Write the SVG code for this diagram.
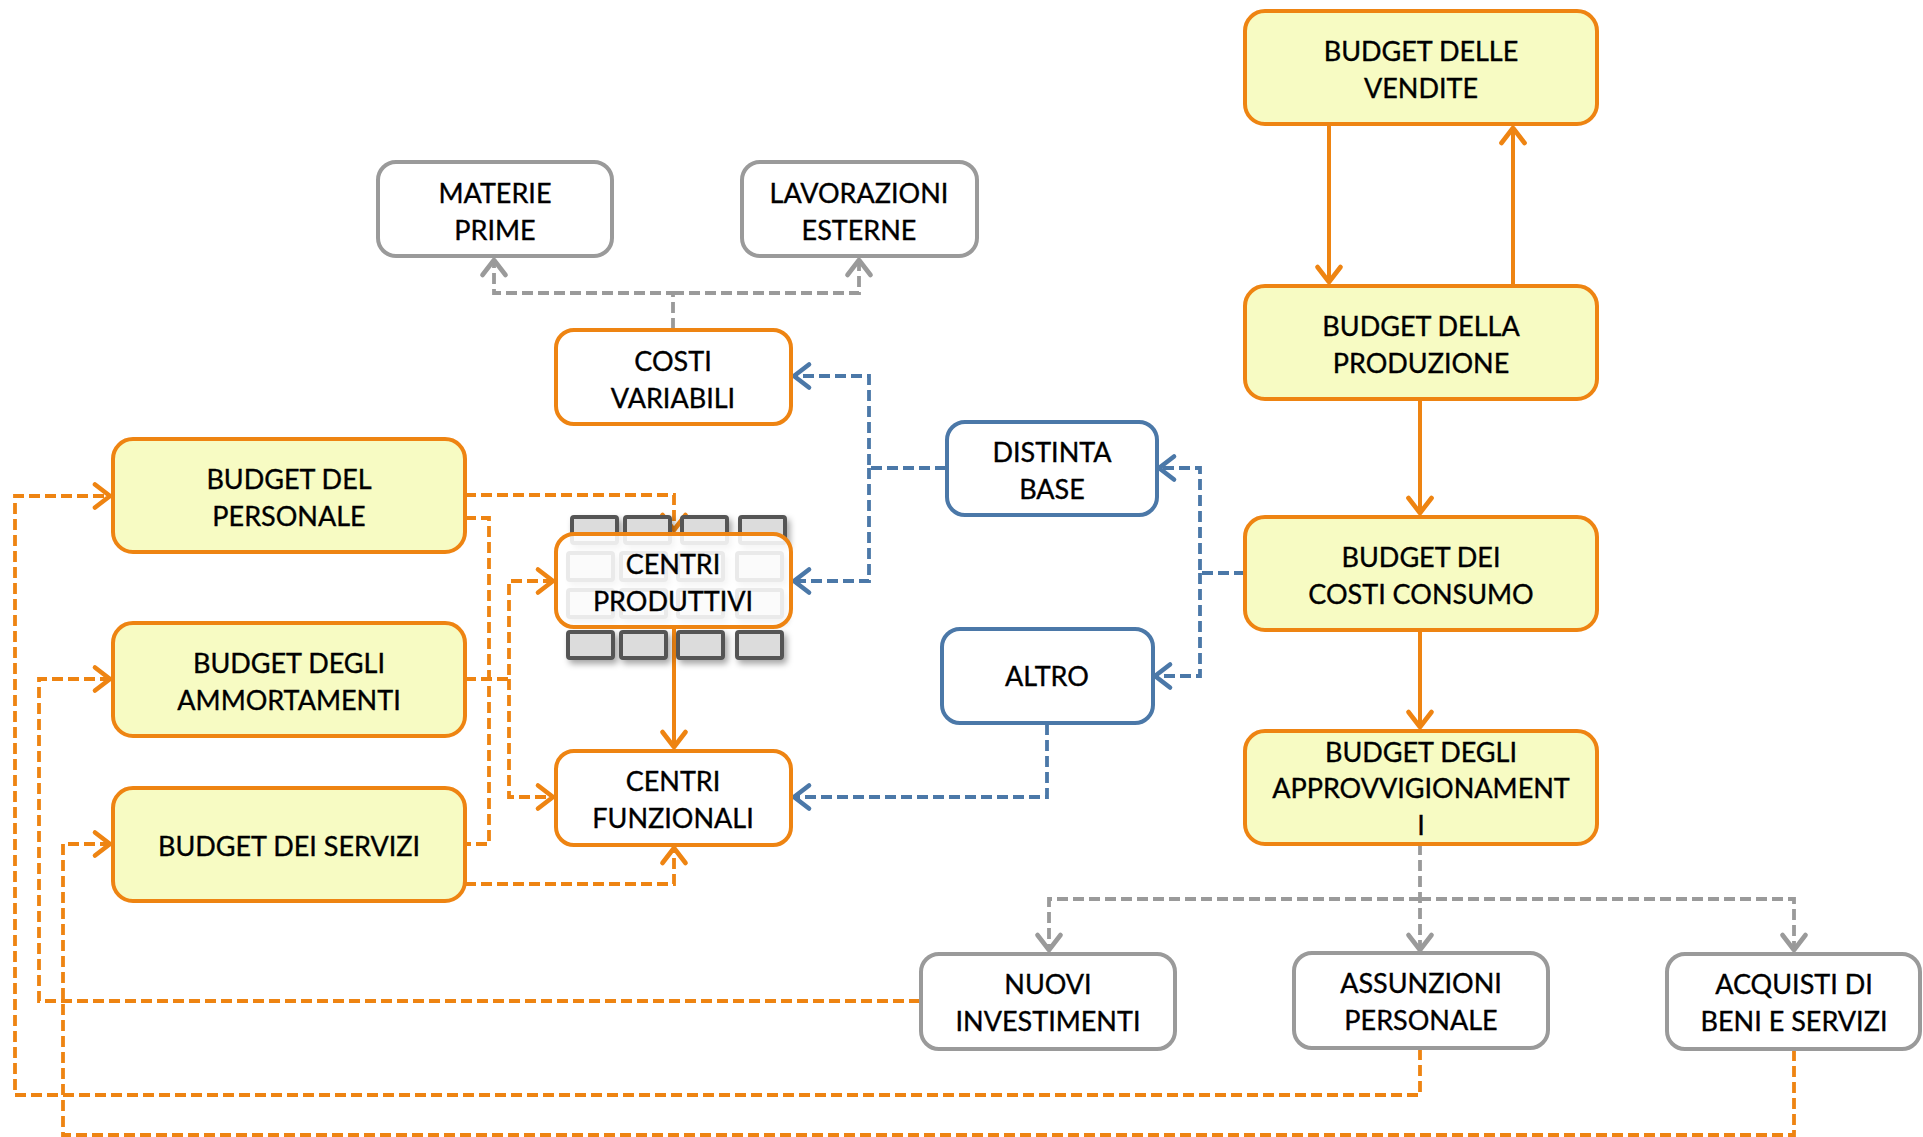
<svg xmlns="http://www.w3.org/2000/svg" width="1923" height="1137" viewBox="0 0 1923 1137">
<style>
text{font-family:Lato,"Liberation Sans",sans-serif;font-size:27px;fill:#000;stroke:#000;stroke-width:0.35;text-anchor:middle}
.y{fill:#F7FBC3;stroke:#EE8412;stroke-width:4}
.o{fill:#fff;stroke:#EE8412;stroke-width:4}
.g{fill:#fff;stroke:#9A9A9A;stroke-width:4}
.b{fill:#fff;stroke:#4B78A8;stroke-width:4}
.tile{fill:#DCDCDC;stroke:#555;stroke-width:4}
.c{fill:none;stroke-width:3.8}
.so{stroke:#EE8412;stroke-width:4}
.do{stroke:#EE8412;stroke-dasharray:11 5}
.db{stroke:#4B78A8;stroke-dasharray:11 5}
.dg{stroke:#9A9A9A;stroke-dasharray:11 5}
</style>
<defs>
<marker id="ao" markerUnits="userSpaceOnUse" markerWidth="30" markerHeight="30" viewBox="-16 -13 20 26" refX="0" refY="0" orient="auto"><path d="M-13,-10 L0,0 L-13,10" fill="none" stroke="#EE8412" stroke-width="4" stroke-linecap="round" stroke-linejoin="round"/></marker>
<marker id="ab" markerUnits="userSpaceOnUse" markerWidth="30" markerHeight="30" viewBox="-16 -13 20 26" refX="0" refY="0" orient="auto"><path d="M-13,-10 L0,0 L-13,10" fill="none" stroke="#4B78A8" stroke-width="4" stroke-linecap="round" stroke-linejoin="round"/></marker>
<marker id="ag" markerUnits="userSpaceOnUse" markerWidth="30" markerHeight="30" viewBox="-16 -13 20 26" refX="0" refY="0" orient="auto"><path d="M-13,-10 L0,0 L-13,10" fill="none" stroke="#9A9A9A" stroke-width="4" stroke-linecap="round" stroke-linejoin="round"/></marker>
<filter id="sh" x="-20%" y="-20%" width="150%" height="160%"><feDropShadow dx="3" dy="4" stdDeviation="3" flood-color="#000" flood-opacity="0.35"/></filter>
</defs>

<g id="connectors">
<path class="c so" d="M1329,125 V282" marker-end="url(#ao)"/>
<path class="c so" d="M1513,285 V128" marker-end="url(#ao)"/>
<path class="c so" d="M1420,399 V513" marker-end="url(#ao)"/>
<path class="c so" d="M1420,631 V727" marker-end="url(#ao)"/>
<path class="c so" d="M674,627 V747" marker-end="url(#ao)"/>
<path class="c dg" d="M673,329 V293 H494 V260" marker-end="url(#ag)"/>
<path class="c dg" d="M673,293 H859 V260" marker-end="url(#ag)"/>
<path class="c dg" d="M1420,844 V950" marker-end="url(#ag)"/>
<path class="c dg" d="M1420,899 H1049 V950" marker-end="url(#ag)"/>
<path class="c dg" d="M1420,899 H1794 V950" marker-end="url(#ag)"/>
<path class="c db" d="M946,468 H869 V376 H794" marker-end="url(#ab)"/>
<path class="c db" d="M869,468 V581 H794" marker-end="url(#ab)"/>
<path class="c db" d="M1245,573 H1200 V468 H1159" marker-end="url(#ab)"/>
<path class="c db" d="M1200,573 V676 H1155" marker-end="url(#ab)"/>
<path class="c db" d="M1047,724 V797 H794" marker-end="url(#ab)"/>
<path class="c do" d="M465,495 H674 V530" marker-end="url(#ao)"/>
<path class="c do" d="M465,518 H489 V844 H465"/>
<path class="c do" d="M465,679 H509 V581 H553" marker-end="url(#ao)"/>
<path class="c do" d="M509,679 V797 H553" marker-end="url(#ao)"/>
<path class="c do" d="M465,884 H674 V848" marker-end="url(#ao)"/>
<path class="c do" d="M1420,1049 V1095 H15 V496 H110" marker-end="url(#ao)"/>
<path class="c do" d="M920,1001 H39 V679 H110" marker-end="url(#ao)"/>
<path class="c do" d="M1794,1050 V1135 H63 V844 H110" marker-end="url(#ao)"/>
</g>

<g id="budget-vendite"><rect class="y" x="1245" y="11" width="352" height="113" rx="20"/><text x="1421" y="61">BUDGET DELLE</text><text x="1421" y="98">VENDITE</text></g>
<g id="budget-produzione"><rect class="y" x="1245" y="286" width="352" height="113" rx="20"/><text x="1421" y="336">BUDGET DELLA</text><text x="1421" y="373">PRODUZIONE</text></g>
<g id="budget-costi-consumo"><rect class="y" x="1245" y="517" width="352" height="113" rx="20"/><text x="1421" y="567">BUDGET DEI</text><text x="1421" y="604">COSTI CONSUMO</text></g>
<g id="budget-approvvigionamenti"><rect class="y" x="1245" y="731" width="352" height="113" rx="20"/><text x="1421" y="762">BUDGET DEGLI</text><text x="1421" y="798">APPROVVIGIONAMENT</text><text x="1421" y="835">I</text></g>

<g id="materie-prime"><rect class="g" x="378" y="162" width="234" height="94" rx="18"/><text x="495" y="203">MATERIE</text><text x="495" y="240">PRIME</text></g>
<g id="lavorazioni-esterne"><rect class="g" x="742" y="162" width="235" height="94" rx="18"/><text x="859" y="203">LAVORAZIONI</text><text x="859" y="240">ESTERNE</text></g>
<g id="costi-variabili"><rect class="o" x="556" y="330" width="235" height="94" rx="18"/><text x="673" y="371">COSTI</text><text x="673" y="408">VARIABILI</text></g>

<g id="distinta-base"><rect class="b" x="947" y="422" width="210" height="93" rx="18"/><text x="1052" y="462">DISTINTA</text><text x="1052" y="499">BASE</text></g>
<g id="altro"><rect class="b" x="942" y="629" width="211" height="94" rx="18"/><text x="1047" y="686">ALTRO</text></g>

<g id="budget-personale"><rect class="y" x="113" y="439" width="352" height="113" rx="20"/><text x="289" y="489">BUDGET DEL</text><text x="289" y="526">PERSONALE</text></g>
<g id="budget-ammortamenti"><rect class="y" x="113" y="623" width="352" height="113" rx="20"/><text x="289" y="673">BUDGET DEGLI</text><text x="289" y="710">AMMORTAMENTI</text></g>
<g id="budget-servizi"><rect class="y" x="113" y="788" width="352" height="113" rx="20"/><text x="289" y="856">BUDGET DEI SERVIZI</text></g>

<g id="centri-produttivi">
<g filter="url(#sh)">
<rect class="tile" x="572" y="517" width="45" height="26" rx="2"/>
<rect class="tile" x="625" y="517" width="45" height="26" rx="2"/>
<rect class="tile" x="682" y="517" width="45" height="26" rx="2"/>
<rect class="tile" x="740" y="517" width="45" height="26" rx="2"/>
<rect class="tile" x="568" y="553" width="45" height="27" rx="2"/>
<rect class="tile" x="621" y="553" width="45" height="27" rx="2"/>
<rect class="tile" x="678" y="553" width="45" height="27" rx="2"/>
<rect class="tile" x="737" y="553" width="45" height="27" rx="2"/>
<rect class="tile" x="568" y="590" width="45" height="27" rx="2"/>
<rect class="tile" x="621" y="590" width="45" height="27" rx="2"/>
<rect class="tile" x="678" y="590" width="45" height="27" rx="2"/>
<rect class="tile" x="737" y="590" width="45" height="27" rx="2"/>
<rect class="tile" x="568" y="632" width="45" height="26" rx="2"/>
<rect class="tile" x="621" y="632" width="45" height="26" rx="2"/>
<rect class="tile" x="678" y="632" width="45" height="26" rx="2"/>
<rect class="tile" x="737" y="632" width="45" height="26" rx="2"/>
</g>
<rect x="556" y="534" width="235" height="93" rx="18" fill="#fff" fill-opacity="0.88" stroke="#EE8412" stroke-width="4"/>
<text x="673" y="574">CENTRI</text><text x="673" y="611">PRODUTTIVI</text>
</g>
<g id="centri-funzionali"><rect class="o" x="556" y="751" width="235" height="94" rx="18"/><text x="673" y="791">CENTRI</text><text x="673" y="828">FUNZIONALI</text></g>

<g id="nuovi-investimenti"><rect class="g" x="921" y="954" width="254" height="95" rx="18"/><text x="1048" y="994">NUOVI</text><text x="1048" y="1031">INVESTIMENTI</text></g>
<g id="assunzioni-personale"><rect class="g" x="1294" y="953" width="254" height="95" rx="18"/><text x="1421" y="993">ASSUNZIONI</text><text x="1421" y="1030">PERSONALE</text></g>
<g id="acquisti-beni-servizi"><rect class="g" x="1667" y="954" width="253" height="95" rx="18"/><text x="1794" y="994">ACQUISTI DI</text><text x="1794" y="1031">BENI E SERVIZI</text></g>
</svg>
